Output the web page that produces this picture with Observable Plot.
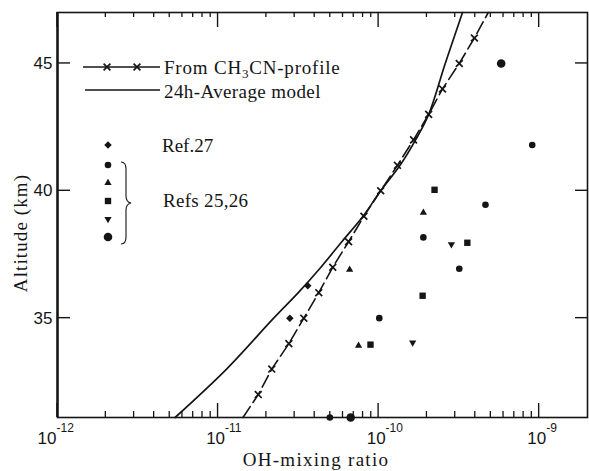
<!DOCTYPE html>
<html><head><meta charset="utf-8">
<script src="https://cdn.jsdelivr.net/npm/d3@7"></script>
<script src="https://cdn.jsdelivr.net/npm/@observablehq/plot@0.6"></script>
<style>
html,body{margin:0;padding:0;background:#fff;}
#chart{width:589px;height:471px;}
</style></head><body><div id="chart"></div>
<script>
// ---- data ----
const profileAlt = [31.1, 32, 33, 34, 35, 36, 37, 38, 39, 40, 41, 42, 43, 44, 45, 46, 47];
const profileOH  = [1.43e-11, 1.78e-11, 2.16e-11, 2.76e-11, 3.42e-11, 4.24e-11, 5.18e-11, 6.5e-11, 8.1e-11, 1.03e-10, 1.31e-10, 1.65e-10, 2.05e-10, 2.5e-10, 3.18e-10, 3.95e-10, 4.82e-10];
const profileMarked = [false, true, true, true, true, true, true, true, true, true, true, true, true, true, true, true, false];

const modelAlt = [31.1, 33, 35, 36, 37, 38, 39, 40, 41, 42, 43, 45, 47];
const modelOH  = [5.4e-12, 1.13e-11, 2.22e-11, 3.16e-11, 4.37e-11, 5.9e-11, 8.0e-11, 1.03e-10, 1.36e-10, 1.7e-10, 2.05e-10, 2.6e-10, 3.33e-10];

const ref27OH  = [2.8e-11, 3.62e-11];
const ref27Alt = [35, 36.27];
const circOH   = [1.01e-10, 3.18e-10, 1.9e-10, 4.63e-10, 9.05e-10, 4.97e-11];
const circAlt  = [35, 36.94, 38.17, 39.45, 41.8, 31.1];
const triOH    = [7.5e-11, 6.6e-11, 1.9e-10];
const triAlt   = [33.92, 36.9, 39.14];
const sqOH     = [8.9e-11, 1.88e-10, 3.57e-10, 2.23e-10];
const sqAlt    = [33.96, 35.88, 37.96, 40.04];
const invOH    = [1.63e-10, 2.84e-10];
const invAlt   = [34.04, 37.9];
const bigOH    = [5.8e-10, 6.7e-11];
const bigAlt   = [45, 31.1];

const xMajor = [1e-12, 1e-11, 1e-10, 1e-9];
const xExp = ["-12", "-11", "-10", "-9"];
const yTicks = [35, 40, 45];
const xMinor = [];
for (const p of [1e-12, 1e-11, 1e-10]) for (let m = 2; m <= 9; m++) xMinor.push(m * p);

// ---- scales & layout ----
const xDomain = [1e-12, 2e-9], yDomain = [31.1, 47];
const W = 589, H = 471, mt = 12, mr = 2, mb = 54, ml = 57;
const ink = "#151515";

const zip = (xs, ys) => xs.map((x, i) => ({oh: x, alt: ys[i]}));
const profile = zip(profileOH, profileAlt);
const profileMarks = profile.filter((d, i) => profileMarked[i]);
const model = zip(modelOH, modelAlt);

const triangleDown = {
  draw(context, size) {
    const y = Math.sqrt(size / (Math.sqrt(3) * 3));
    context.moveTo(0, y * 2);
    context.lineTo(-Math.sqrt(3) * y, -y);
    context.lineTo(Math.sqrt(3) * y, -y);
    context.closePath();
  }
};

const R = {diamond: 3.4, circ: 3.3, tri: 2.7, sq: 3.6, inv: 2.7, big: 4.3, times: 3.2};

const plot = Plot.plot({
  width: W, height: H,
  marginTop: mt, marginRight: mr, marginBottom: mb, marginLeft: ml,
  style: {background: "#fff", fontFamily: "'Liberation Sans', sans-serif", color: ink},
  x: {type: "log", domain: xDomain, axis: null},
  y: {domain: yDomain, axis: null},
  marks: [
    Plot.frame({stroke: ink, strokeWidth: 1.6}),
    Plot.ruleX([xDomain[0]], {stroke: ink, strokeWidth: 2.4}),
    Plot.text(yTicks, {y: d => d, text: d => String(d), frameAnchor: "left", textAnchor: "end", dx: -5, fontSize: 17, fill: ink}),
    Plot.text(xMajor, {filter: (d, i) => i > 0, x: d => d, text: () => "10", frameAnchor: "bottom", textAnchor: "end", dx: 7, dy: 26, fontSize: 17, fill: ink}),
    Plot.text(xMajor, {filter: (d, i) => i > 0, x: d => d, text: (d, i) => xExp[i], frameAnchor: "bottom", textAnchor: "start", dx: 7, dy: 14, fontSize: 12, fill: ink}),
    Plot.text(xMajor, {filter: (d, i) => i === 0, x: d => d, text: () => "10", frameAnchor: "bottom", textAnchor: "end", dx: -1, dy: 26, fontSize: 17, fill: ink}),
    Plot.text(xMajor, {filter: (d, i) => i === 0, x: d => d, text: (d, i) => xExp[i], frameAnchor: "bottom", textAnchor: "start", dx: -1, dy: 14, fontSize: 12, fill: ink}),
    Plot.line(model, {x: "oh", y: "alt", curve: "catmull-rom", stroke: ink, strokeWidth: 1.7}),
    Plot.line(profile, {x: "oh", y: "alt", stroke: ink, strokeWidth: 1.6, strokeDasharray: "13,5"}),
    Plot.dot(profileMarks, {x: "oh", y: "alt", symbol: "times", r: R.times, stroke: ink, strokeWidth: 1.7}),
    Plot.dot(zip(ref27OH, ref27Alt), {x: "oh", y: "alt", symbol: "diamond2", r: R.diamond, fill: ink, stroke: "none"}),
    Plot.dot(zip(circOH, circAlt), {x: "oh", y: "alt", symbol: "circle", r: R.circ, fill: ink, stroke: "none"}),
    Plot.dot(zip(triOH, triAlt), {x: "oh", y: "alt", symbol: "triangle", r: R.tri, fill: ink, stroke: "none"}),
    Plot.dot(zip(sqOH, sqAlt), {x: "oh", y: "alt", symbol: "square", r: R.sq, fill: ink, stroke: "none"}),
    Plot.dot(zip(invOH, invAlt), {x: "oh", y: "alt", symbol: triangleDown, r: R.inv, fill: ink, stroke: "none"}),
    Plot.dot(zip(bigOH, bigAlt), {x: "oh", y: "alt", symbol: "circle", r: R.big, fill: ink, stroke: "none"})
  ]
});

const svg = d3.select(plot);

// ---- inward frame ticks, placed with Plot's own scales ----
const sx = plot.scale("x"), sy = plot.scale("y");
const px = v => sx.apply(v), py = v => sy.apply(v);
const yBottom = py(yDomain[0]), yTop = py(yDomain[1]), xLeft = px(xDomain[0]), xRight = px(xDomain[1]);
const tickG = svg.append("g");
const tick = (x1, y1, x2, y2, w) => tickG.append("line")
  .attr("x1", x1).attr("y1", y1).attr("x2", x2).attr("y2", y2)
  .attr("stroke", ink).attr("stroke-width", w);
for (const v of xMajor) { tick(px(v), yBottom, px(v), yBottom - 14, 1.4); tick(px(v), yTop, px(v), yTop + 15, 1.4); }
for (const v of xMinor) { tick(px(v), yBottom, px(v), yBottom - 6, 1.3); tick(px(v), yTop, px(v), yTop + 5, 1.3); }
for (const v of yTicks) { tick(xLeft, py(v), xLeft + 13, py(v), 1.4); tick(xRight, py(v), xRight - 12, py(v), 1.4); }

// ---- titles and legend ----
const serif = "'Liberation Serif', 'Times New Roman', serif";
const g = svg.append("g").attr("fill", ink).attr("text-anchor", "start").style("font-family", serif);

g.append("text").attr("transform", "translate(27,233) rotate(-90)")
  .attr("text-anchor", "middle").attr("font-size", 19).attr("letter-spacing", "1.1px")
  .text("Altitude (km)");
g.append("text").attr("x", 316).attr("y", 466)
  .attr("text-anchor", "middle").attr("font-size", 19).attr("letter-spacing", "1.3px")
  .text("OH-mixing ratio");

const sym = (type, r) => d3.symbol(type, r * r * Math.PI)();
g.append("line").attr("x1", 83).attr("x2", 160).attr("y1", 67).attr("y2", 67).attr("stroke", ink).attr("stroke-width", 1.6);
for (const x of [107, 137]) g.append("path").attr("d", sym(d3.symbolTimes, R.times)).attr("transform", `translate(${x},67)`).attr("fill", "none").attr("stroke", ink).attr("stroke-width", 1.7);
const t1 = g.append("text").attr("x", 164).attr("y", 74).attr("font-size", 19).attr("letter-spacing", "0.8px");
t1.append("tspan").text("From CH");
t1.append("tspan").attr("font-size", 13).attr("dy", 4).text("3");
t1.append("tspan").attr("dy", -4).text("CN-profile");
g.append("line").attr("x1", 85).attr("x2", 160).attr("y1", 90).attr("y2", 90).attr("stroke", ink).attr("stroke-width", 1.7);
g.append("text").attr("x", 164).attr("y", 98).attr("font-size", 19).attr("letter-spacing", "0.4px").text("24h-Average model");

const legendSyms = [
  [d3.symbolDiamond2, R.diamond, 145],
  [d3.symbolCircle, R.circ, 165],
  [d3.symbolTriangle, R.tri, 183],
  [d3.symbolSquare, R.sq, 201],
  [triangleDown, R.inv, 219],
  [d3.symbolCircle, R.big, 237]
];
for (const [type, r, y] of legendSyms) g.append("path").attr("d", sym(type, r)).attr("transform", `translate(108,${y})`).attr("fill", ink);
g.append("text").attr("x", 162).attr("y", 152).attr("font-size", 19).text("Ref.27");
g.append("text").attr("x", 163).attr("y", 207).attr("font-size", 19).attr("letter-spacing", "0.3px").text("Refs 25,26");
g.append("path")
  .attr("d", "M121,162 Q126,162 126,169 L126,196 Q126,202 131,203 Q126,204 126,210 L126,237 Q126,244 121,244")
  .attr("fill", "none").attr("stroke", ink).attr("stroke-width", 1.1);

document.getElementById("chart").append(plot);
</script>
</body></html>
